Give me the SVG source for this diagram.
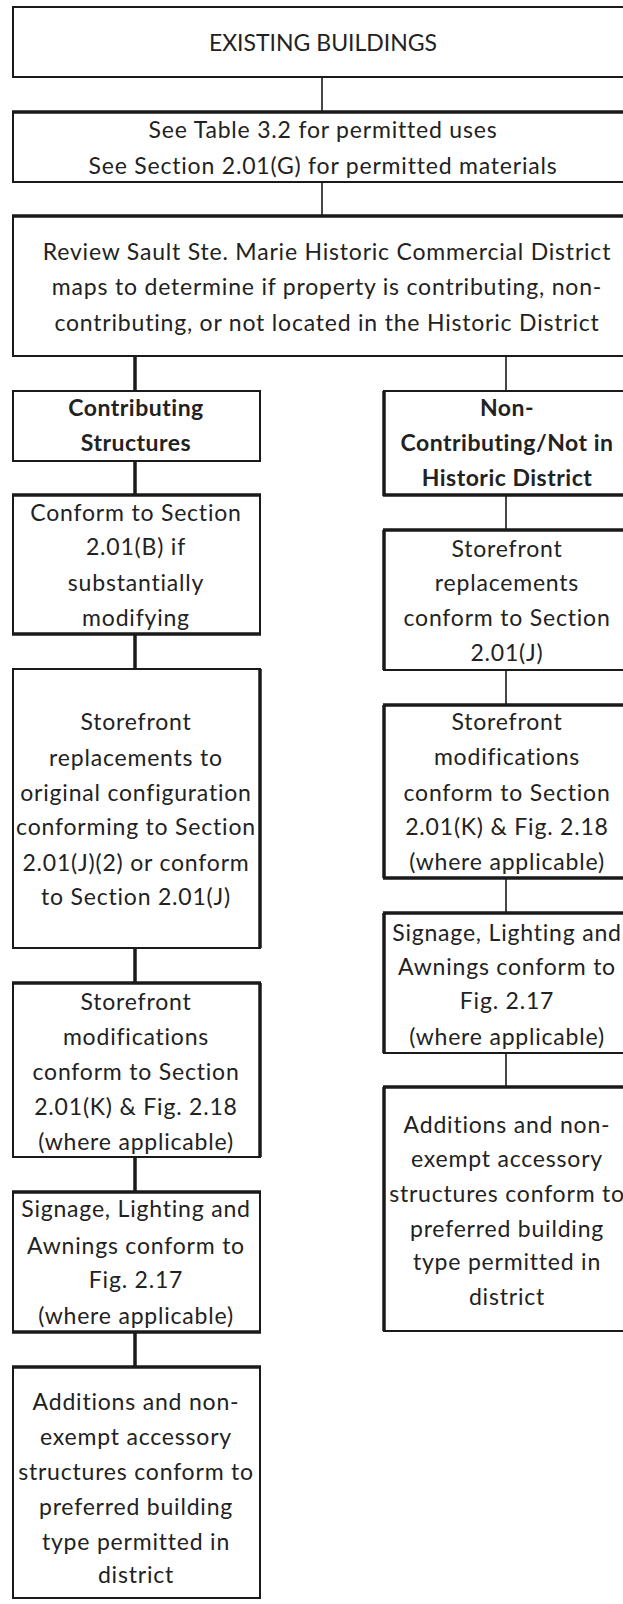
<svg xmlns="http://www.w3.org/2000/svg" width="623" height="1604" viewBox="0 0 623 1604">
<style>
  .box { fill: #ffffff; stroke: #1a1a1a; stroke-width: 2; }
  .thick { stroke: #1a1a1a; stroke-width: 3.5; fill: none; }
  .conn { stroke: #1a1a1a; stroke-width: 1.6; fill: none; }
  .conn-thick { stroke: #1a1a1a; stroke-width: 3.5; fill: none; }
  text { font-family: Lato, "Liberation Sans", sans-serif; font-size: 23px; fill: #222222; text-anchor: middle; letter-spacing: 0.8px; }
  .b { font-weight: bold; letter-spacing: 0.5px; }
  .caps { letter-spacing: 0px; }
</style>
<rect x="0" y="0" width="623" height="1604" fill="#ffffff"/>

<g id="connectors">
  <line class="conn" x1="322" y1="77" x2="322" y2="112"/>
  <line class="conn" x1="322" y1="182" x2="322" y2="216"/>
  <line class="conn-thick" x1="135" y1="356" x2="135" y2="391"/>
  <line class="conn" x1="506" y1="356" x2="506" y2="391"/>
  <line class="conn-thick" x1="135" y1="461" x2="135" y2="495"/>
  <line class="conn-thick" x1="135" y1="634" x2="135" y2="669"/>
  <line class="conn-thick" x1="135" y1="948" x2="135" y2="983"/>
  <line class="conn-thick" x1="135" y1="1157" x2="135" y2="1192"/>
  <line class="conn-thick" x1="135" y1="1332" x2="135" y2="1367"/>
  <line class="conn" x1="506" y1="495" x2="506" y2="530"/>
  <line class="conn" x1="506" y1="670" x2="506" y2="705"/>
  <line class="conn" x1="506" y1="878" x2="506" y2="913"/>
  <line class="conn" x1="506" y1="1053" x2="506" y2="1087"/>
</g>

<g id="existing-buildings">
  <rect class="box" x="13" y="7" width="640" height="70"/>
  <text class="caps" x="323" y="51">EXISTING BUILDINGS</text>
</g>

<g id="see-table">
  <rect class="box" x="13" y="112" width="640" height="70"/>
  <line class="thick" x1="12" y1="112" x2="623" y2="112"/>
  <text x="323" y="138">See Table 3.2 for permitted uses</text>
  <text x="323" y="174">See Section 2.01(G) for permitted materials</text>
</g>

<g id="review">
  <rect class="box" x="13" y="216" width="640" height="140"/>
  <line class="thick" x1="12" y1="216" x2="623" y2="216"/>
  <text x="327" y="260">Review Sault Ste. Marie Historic Commercial District</text>
  <text x="327" y="295">maps to determine if property is contributing, non-</text>
  <text x="327" y="331">contributing, or not located in the Historic District</text>
</g>

<g id="contributing">
  <rect class="box" x="13" y="391" width="247" height="70"/>
  <text class="b" x="136" y="416">Contributing</text>
  <text class="b" x="136" y="451">Structures</text>
</g>

<g id="conform-b">
  <rect class="box" x="13" y="495" width="247" height="139"/>
  <line class="thick" x1="12" y1="495" x2="261" y2="495"/>
  <line class="thick" x1="12" y1="634" x2="261" y2="634"/>
  <text x="136" y="521">Conform to Section</text>
  <text x="136" y="555">2.01(B) if</text>
  <text x="136" y="591">substantially</text>
  <text x="136" y="626">modifying</text>
</g>

<g id="storefront-replacements-left">
  <rect class="box" x="13" y="669" width="247" height="279"/>
  <line class="thick" x1="260" y1="669" x2="260" y2="948"/>
  <text x="136" y="730">Storefront</text>
  <text x="136" y="766">replacements to</text>
  <text x="136" y="801">original configuration</text>
  <text x="136" y="835">conforming to Section</text>
  <text x="136" y="871">2.01(J)(2) or conform</text>
  <text x="136" y="905">to Section 2.01(J)</text>
</g>

<g id="storefront-modifications-left">
  <rect class="box" x="13" y="983" width="247" height="174"/>
  <line class="thick" x1="12" y1="983" x2="261" y2="983"/>
  <line class="thick" x1="260" y1="983" x2="260" y2="1157"/>
  <text x="136" y="1010">Storefront</text>
  <text x="136" y="1045">modifications</text>
  <text x="136" y="1080">conform to Section</text>
  <text x="136" y="1115">2.01(K) &amp; Fig. 2.18</text>
  <text x="136" y="1150">(where applicable)</text>
</g>

<g id="signage-left">
  <rect class="box" x="13" y="1192" width="247" height="140"/>
  <line class="thick" x1="12" y1="1192" x2="261" y2="1192"/>
  <line class="thick" x1="12" y1="1332" x2="261" y2="1332"/>
  <text x="136" y="1217">Signage, Lighting and</text>
  <text x="136" y="1254">Awnings conform to</text>
  <text x="136" y="1288">Fig. 2.17</text>
  <text x="136" y="1324">(where applicable)</text>
</g>

<g id="additions-left">
  <rect class="box" x="13" y="1367" width="247" height="231"/>
  <line class="thick" x1="12" y1="1367" x2="261" y2="1367"/>
  <text x="136" y="1410">Additions and non-</text>
  <text x="136" y="1445">exempt accessory</text>
  <text x="136" y="1480">structures conform to</text>
  <text x="136" y="1515">preferred building</text>
  <text x="136" y="1550">type permitted in</text>
  <text x="136" y="1583">district</text>
</g>

<g id="non-contributing">
  <rect class="box" x="384" y="391" width="260" height="104"/>
  <line class="thick" x1="384" y1="391" x2="384" y2="496"/>
  <line class="thick" x1="383" y1="495" x2="623" y2="495"/>
  <text class="b" x="507" y="416">Non-</text>
  <text class="b" x="507" y="451">Contributing/Not in</text>
  <text class="b" x="507" y="486">Historic District</text>
</g>

<g id="storefront-replacements-right">
  <rect class="box" x="384" y="530" width="260" height="140"/>
  <line class="thick" x1="383" y1="530" x2="623" y2="530"/>
  <line class="thick" x1="384" y1="530" x2="384" y2="670"/>
  <text x="507" y="557">Storefront</text>
  <text x="507" y="591">replacements</text>
  <text x="507" y="626">conform to Section</text>
  <text x="507" y="661">2.01(J)</text>
</g>

<g id="storefront-modifications-right">
  <rect class="box" x="384" y="705" width="260" height="173"/>
  <line class="thick" x1="383" y1="705" x2="623" y2="705"/>
  <line class="thick" x1="383" y1="878" x2="623" y2="878"/>
  <line class="thick" x1="384" y1="705" x2="384" y2="878"/>
  <text x="507" y="730">Storefront</text>
  <text x="507" y="765">modifications</text>
  <text x="507" y="801">conform to Section</text>
  <text x="507" y="835">2.01(K) &amp; Fig. 2.18</text>
  <text x="507" y="870">(where applicable)</text>
</g>

<g id="signage-right">
  <rect class="box" x="384" y="913" width="260" height="140"/>
  <line class="thick" x1="383" y1="913" x2="623" y2="913"/>
  <line class="thick" x1="384" y1="913" x2="384" y2="1053"/>
  <text x="507" y="941">Signage, Lighting and</text>
  <text x="507" y="975">Awnings conform to</text>
  <text x="507" y="1009">Fig. 2.17</text>
  <text x="507" y="1045">(where applicable)</text>
</g>

<g id="additions-right">
  <rect class="box" x="384" y="1087" width="260" height="244"/>
  <line class="thick" x1="383" y1="1087" x2="623" y2="1087"/>
  <line class="thick" x1="384" y1="1087" x2="384" y2="1331"/>
  <text x="507" y="1133">Additions and non-</text>
  <text x="507" y="1167">exempt accessory</text>
  <text x="507" y="1202">structures conform to</text>
  <text x="507" y="1237">preferred building</text>
  <text x="507" y="1270">type permitted in</text>
  <text x="507" y="1305">district</text>
</g>
</svg>
